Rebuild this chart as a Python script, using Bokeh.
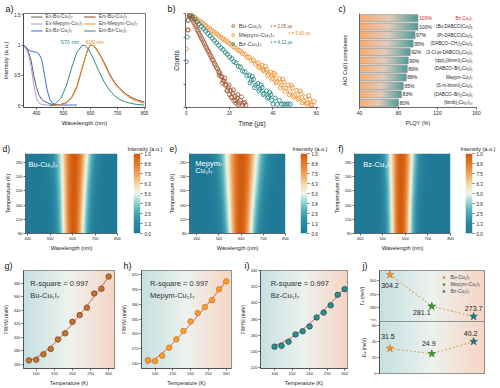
import numpy as np
from bokeh.plotting import figure
from bokeh.layouts import row, column
from bokeh.models import (Range1d, Legend, LegendItem, Label, LabelSet, ColumnDataSource,
                          LinearColorMapper, FixedTicker)
from bokeh.core.properties import value
from bokeh.embed import file_html
from bokeh.resources import INLINE

FONT = "Liberation Sans"

# ---------------- (a) normalized excitation / emission spectra ----------------
ex_wl = [350, 360, 370, 380, 390, 400, 410, 420, 430, 440, 450, 460, 470]
ex_bu = [1.00, 0.97, 0.90, 0.75, 0.50, 0.30, 0.17, 0.10, 0.07, 0.05, 0.03, 0.02, 0.02]
ex_mepym = [1.00, 0.95, 0.85, 0.65, 0.35, 0.12, 0.04, 0.02, 0.015, 0.01, 0.01, 0.01, 0.01]
exbz_wl = [350, 360, 370, 380, 390, 400, 410, 420, 430, 440, 450, 460, 470, 490, 520, 550]
ex_bz = [1.00, 0.97, 0.92, 0.90, 0.89, 0.88, 0.85, 0.75, 0.50, 0.25, 0.10, 0.04, 0.02, 0.01, 0.01, 0.01]
em_wl = [450, 470, 490, 510, 530, 550, 570, 580, 590, 600, 610, 620, 630, 650, 670, 690, 710, 730, 750, 770, 800]
em_bu = [0.00, 0.01, 0.02, 0.05, 0.13, 0.32, 0.63, 0.79, 0.92, 1.00, 0.99, 0.95, 0.88, 0.72, 0.53, 0.38, 0.28, 0.20, 0.14, 0.10, 0.06]
em_mepym = [0.00, 0.01, 0.02, 0.04, 0.12, 0.30, 0.62, 0.78, 0.92, 1.00, 0.99, 0.94, 0.87, 0.70, 0.51, 0.36, 0.26, 0.18, 0.12, 0.08, 0.04]
em_bz = [0.00, 0.03, 0.12, 0.32, 0.62, 0.88, 1.00, 0.99, 0.95, 0.87, 0.78, 0.68, 0.58, 0.40, 0.26, 0.16, 0.10, 0.06, 0.04, 0.02, 0.01]
a_labels = ["Ex-Bu-Cu₅I₇", "Ex-Mepym-Cu₅I₇", "Ex-Bz-Cu₅I₇", "Em-Bu-Cu₅I₇", "Em-Mepym-Cu₅I₇", "Em-Bz-Cu₅I₇"]

# ---------------- (b) PL decay (time in us, log10 counts) ----------------
bu_decay = [(1.0, 3.30), (1.5, 3.88), (2.0, 3.90), (2.5, 3.80), (3.0, 3.72), (3.5, 3.62), (4.0, 3.52),
            (4.5, 3.43), (5.0, 3.33), (5.5, 3.25), (6.0, 3.15), (6.5, 3.06), (7.0, 2.96), (7.5, 2.88),
            (8.0, 2.78), (8.5, 2.70), (9.0, 2.60), (9.5, 2.52), (10.0, 2.42), (10.5, 2.35), (11.0, 2.24),
            (11.5, 2.16), (12.0, 2.05), (12.5, 1.99), (13.0, 1.88), (13.5, 1.80), (14.0, 1.70), (14.5, 1.64),
            (15.0, 1.52), (15.5, 1.47), (16.0, 1.33), (16.5, 1.30), (17.0, 1.15), (17.5, 1.12), (18.0, 0.95),
            (18.5, 0.98), (19.0, 0.75), (19.5, 0.85), (20.0, 0.55), (20.5, 0.72), (21.0, 0.42), (21.5, 0.60),
            (22.0, 0.28), (22.5, 0.48), (23.0, 0.18), (23.5, 0.40), (24.0, 0.12), (25.0, 0.30), (26.0, 0.10),
            (27.0, 0.22), (15.2, 1.38), (16.8, 1.05), (17.8, 1.25), (18.8, 0.70), (19.8, 0.95), (20.8, 0.45),
            (21.8, 0.75), (22.8, 0.30), (23.8, 0.55), (24.5, 0.20), (25.5, 0.45), (26.5, 0.18), (27.5, 0.10)]
mepym_decay = [(0.0, 2.50), (0.5, 3.30), (1.0, 3.75), (1.5, 3.95), (2, 3.97), (3, 3.90), (4, 3.83), (5, 3.76),
               (6, 3.69), (7, 3.62), (8, 3.55), (9, 3.48), (10, 3.41), (11, 3.34), (12, 3.27), (13, 3.20),
               (14, 3.13), (15, 3.06), (16, 2.99), (17, 2.93), (18, 2.86), (19, 2.80), (20, 2.72), (21, 2.67),
               (22, 2.58), (23, 2.53), (24, 2.44), (25, 2.40), (26, 2.30), (27, 2.27), (28, 2.15), (29, 2.14),
               (30, 2.00), (31, 2.02), (32, 1.85), (33, 1.90), (34, 1.70), (35, 1.80), (36, 1.55), (37, 1.62),
               (38, 1.42), (39, 1.50), (40, 1.25), (41, 1.38), (42, 1.10), (43, 1.22), (44, 0.95), (45, 1.08),
               (46, 0.82), (47, 0.95), (48, 0.66), (49, 0.85), (50, 0.52), (51, 0.72), (52, 0.40), (53, 0.58),
               (54, 0.28), (55, 0.45), (56, 0.18), (57, 0.35), (58, 0.12), (59, 0.25), (33.5, 1.72), (35.5, 1.60),
               (37.5, 1.35), (39.5, 1.20), (41.5, 1.05), (43.5, 0.85), (45.5, 0.70), (47.5, 0.55), (49.5, 0.45),
               (51.5, 0.35), (53.5, 0.20), (55.5, 0.15), (57.5, 0.10), (36.5, 1.75), (40.5, 1.45), (44.5, 1.20),
               (48.5, 0.95), (52.5, 0.70), (56.5, 0.50)]
bz_decay = [(0.0, 1.95), (0.5, 3.00), (1.0, 3.70), (1.5, 3.92), (2, 3.95), (3, 3.85), (4, 3.75), (5, 3.65),
            (6, 3.55), (7, 3.45), (8, 3.35), (9, 3.25), (10, 3.15), (11, 3.05), (12, 2.95), (13, 2.85),
            (14, 2.75), (15, 2.65), (16, 2.55), (17, 2.46), (18, 2.35), (19, 2.27), (20, 2.15), (21, 2.08),
            (22, 1.95), (23, 1.90), (24, 1.75), (25, 1.72), (26, 1.55), (27, 1.52), (28, 1.35), (29, 1.38),
            (30, 1.15), (31, 1.20), (32, 0.95), (33, 1.02), (34, 0.78), (35, 0.85), (36, 0.60), (37, 0.70),
            (38, 0.45), (39, 0.55), (40, 0.15), (41, 0.40), (42, 0.14), (43, 0.30), (44, 0.14), (45, 0.15),
            (46, 0.14), (47, 0.15), (48, 0.14), (29.5, 1.05), (31.5, 0.85), (33.5, 0.70), (35.5, 0.55),
            (37.5, 0.40), (39.5, 0.30), (30.5, 1.32), (34.5, 0.95), (38.5, 0.65)]
b_names = ["Bu-Cu₅I₇", "Mepym-Cu₅I₇", "Bz-Cu₅I₇"]
b_tau = ["τ = 2.05 μs", "τ = 5.60 μs", "τ = 4.12 μs"]

# ---------------- (c) PLQY of AIO Cu(I) complexes ----------------
c_names = ["Bz-Cu₅I₇", "(Bu-DABCO)Cu₄I₆", "(Pr-DABCO)Cu₄I₆", "(DABCO–CH₂)₂Cu₄I₆", "(3-Cl-pr-DABCO)₂Cu₄I₆",
           "(tpp)₂(btmm)₂Cu₄I₆", "(DABCO–Br)₂Cu₄I₆", "Mepym-Cu₅I₇", "(S-m-btmm)₂Cu₄I₆",
           "(DABCO–Br)₃Cu₄I₆", "(btmb)₂Cu₁₀I₁₀"]
c_plqy = [100, 100, 97, 95, 92, 90, 89, 88, 85, 83, 80]

# ---------------- (d-f) temperature-dependent PL maps ----------------
hm_temps = [80, 120, 160, 200, 240, 280, 305]
d_center = [603, 603, 604, 605, 606, 607, 608]
d_fwhm = [88, 92, 96, 100, 106, 112, 116]
e_center = [598, 598, 599, 600, 601, 602, 603]
e_fwhm = [96, 103, 110, 118, 126, 134, 138]
f_center = [580, 580, 580, 581, 581, 582, 582]
f_fwhm = [80, 82, 85, 88, 92, 96, 98]
cbar_labels = ["0.0", "1.3", "2.5", "3.8", "5.0", "6.3", "7.5", "8.8", "1.0"]

# ---------------- (g-i) FWHM vs temperature ----------------
temps_bu = [80, 100, 120, 140, 160, 180, 200, 220, 240, 260, 280, 300]
fwhm_bu = [266, 267, 275, 283, 297, 306, 323, 333, 344, 365, 372, 390]
temps_mepym = [80, 100, 120, 140, 160, 180, 200, 220, 240, 260, 280, 300]
fwhm_mepym = [247, 245, 256, 272, 289, 306, 325, 342, 354, 368, 390, 406]
temps_bz = [100, 120, 140, 160, 180, 200, 220, 240, 260, 280, 300]
fwhm_bz = [246, 247, 252, 261, 265, 271, 282, 288, 297, 310, 317]

# ---------------- (j) fitted parameters ----------------
j_samples = ["Bu-Cu₅I₇", "Mepym-Cu₅I₇", "Bz-Cu₅I₇"]
gamma_lo = [304.2, 281.1, 273.7]
e_lo = [31.5, 24.9, 40.2]
gamma0 = [262, 233, 245]
KB = 0.08617  # meV/K

C_BU, C_ME, C_BZ = "#a0522d", "#f08a24", "#17807a"


def hex2rgb(h):
    return tuple(int(h[i:i + 2], 16) for i in (1, 3, 5))


def grad_img(stops, n=96):
    pos = [s for s, _ in stops]
    rgb = [hex2rgb(c) for _, c in stops]
    xs = np.linspace(0, 1, n)
    img = np.empty((1, n), dtype=np.uint32)
    v = img.view(dtype=np.uint8).reshape((1, n, 4))
    for k in range(3):
        v[0, :, k] = np.interp(xs, pos, [c[k] for c in rgb]).astype(np.uint8)
    v[0, :, 3] = 255
    return img


def make_palette(stops, n=256):
    pos = [s for s, _ in stops]
    rgb = [hex2rgb(c) for _, c in stops]
    xs = np.linspace(0, 1, n)
    ch = [np.interp(xs, pos, [c[k] for c in rgb]) for k in range(3)]
    return ["#%02x%02x%02x" % (int(r), int(g), int(b)) for r, g, b in zip(*ch)]


FRAMES = {}


def fig(w, h, l, r, t, b, xr, yr, tick="4.5px", lab="5.5px", outline=True, logy=False, **kw):
    p = figure(width=w, height=h, x_range=xr, y_range=yr, toolbar_location=None, output_backend="svg",
               min_border_left=l, min_border_right=r, min_border_top=t, min_border_bottom=b,
               y_axis_type="log" if logy else "linear", **kw)
    FRAMES[id(p)] = (w - l - r, h - t - b, logy)
    p.xgrid.visible = False
    p.ygrid.visible = False
    p.outline_line_color = "#555555" if outline else None
    p.outline_line_width = 0.8
    for ax in p.axis:
        ax.major_label_text_font = FONT
        ax.major_label_text_font_size = tick
        ax.major_label_text_color = "#222222"
        ax.axis_label_text_font = FONT
        ax.axis_label_text_font_size = lab
        ax.axis_label_text_font_style = "normal"
        ax.axis_label_text_color = "#222222"
        ax.axis_line_color = "#444444"
        ax.axis_line_width = 0.8
        ax.major_tick_line_color = "#444444"
        ax.major_tick_line_width = 0.8
        ax.major_tick_out = 2
        ax.major_tick_in = 0
        ax.minor_tick_line_color = None
        ax.major_label_standoff = 1
        ax.axis_label_standoff = 2
    return p


def note(p, txt, px, py, size="5px", color="#222222", align="left", baseline="top"):
    """Text inside the frame, at a pixel offset from the frame's bottom-left corner (data units)."""
    fw, fh, logy = FRAMES[id(p)]
    xr, yr = p.x_range, p.y_range
    x = xr.start + px / fw * (xr.end - xr.start)
    if logy:
        ly0, ly1 = np.log10(yr.start), np.log10(yr.end)
        y = 10 ** (ly0 + py / fh * (ly1 - ly0))
    else:
        y = yr.start + py / fh * (yr.end - yr.start)
    p.add_layout(Label(x=float(x), y=float(y), text=txt, text_font=FONT, text_font_size=size,
                       text_baseline=baseline, text_color=color, text_align=align))


def set_title(p, txt, offset, size="9px", standoff=0, color="#111111"):
    """Figure title, left aligned and shifted relative to the frame's left edge."""
    p.title.text = txt
    p.title.align = "left"
    p.title.offset = offset
    p.title.standoff = standoff
    p.title.text_font = FONT
    p.title.text_font_size = size
    p.title.text_font_style = "normal"
    p.title.text_color = color


# ================= (a) =================
pa = fig(165, 134, 20, 20, 13, 27, Range1d(352, 804), Range1d(-0.03, 1.52), tick="4.5px", lab="6px")
pa.xaxis.ticker = FixedTicker(ticks=[400, 500, 600, 700, 800])
pa.yaxis.ticker = FixedTicker(ticks=[0, 0.5, 1.0, 1.5])
pa.xaxis.axis_label = "Wavelength (nm)"
pa.yaxis.axis_label = "Intensity (a.u.)"
ra = [pa.line(ex_wl, ex_bu, line_color="#606060", line_width=1),
      pa.line(ex_wl, ex_mepym, line_color="#b48fd8", line_width=1),
      pa.line(exbz_wl, ex_bz, line_color="#3a6fd8", line_width=1),
      pa.line(em_wl, em_bu, line_color="#8b4a2a", line_width=1),
      pa.line(em_wl, em_mepym, line_color="#f0902a", line_width=1),
      pa.line(em_wl, em_bz, line_color="#2a8c84", line_width=1)]
leg_a = Legend(items=[LegendItem(label=l, renderers=[r]) for l, r in zip(a_labels, ra)],
               location="top_center", ncols=2, background_fill_alpha=0, border_line_color=None,
               label_text_font=FONT, label_text_font_size="5px", label_height=5, glyph_height=5,
               glyph_width=12, spacing=1, padding=1, margin=0, label_standoff=3)
pa.add_layout(leg_a)
pa.add_layout(Label(x=558, y=1.05, text="570 nm", text_font=FONT, text_font_size="5.5px",
                    text_color="#2a8c84", text_align="right", text_baseline="middle"))
pa.add_layout(Label(x=582, y=1.05, text="600 nm", text_font=FONT, text_font_size="5.5px",
                    text_color="#f0902a", text_align="left", text_baseline="middle"))
set_title(pa, "a)", -18)

# ================= (b) =================
pb = fig(165, 134, 20, 12, 10, 21, Range1d(-0.3, 61), Range1d(1, 10000), logy=True,
         outline=False, tick="4.5px", lab="6.5px")
pb.xaxis.ticker = FixedTicker(ticks=[0, 20, 40, 60])
pb.yaxis.major_label_text_color = None
pb.yaxis.major_label_text_font_size = "3px"
pb.xaxis.axis_label = "Time (μs)"
pb.yaxis.axis_label = "Counts"
rb = {}
for key, data, col in [("me", mepym_decay, C_ME), ("bz", bz_decay, C_BZ), ("bu", bu_decay, C_BU)]:
    t, lg = zip(*data)
    rb[key] = pb.scatter(list(t), [10 ** v for v in lg], marker="circle", size=4.2, fill_color=None,
                         line_color=col, line_width=0.8)
leg_b = Legend(items=[LegendItem(label=b_names[0], renderers=[rb["bu"]]),
                      LegendItem(label=b_names[1], renderers=[rb["me"]]),
                      LegendItem(label=b_names[2], renderers=[rb["bz"]])],
               location="top_center", background_fill_alpha=0, border_line_color=None,
               label_text_font=FONT, label_text_font_size="6px", label_height=7, glyph_height=7,
               glyph_width=7, spacing=2, padding=1, margin=9, label_standoff=3)
pb.add_layout(leg_b)
for txt, col, x, y in zip(b_tau, [C_BU, C_ME, C_BZ], [85, 103, 85], [89, 80.7, 71.7]):
    note(pb, txt, x, y, size="4.5px", color=col, baseline="middle")
set_title(pb, "b)", -18)

# ================= (c) =================
n_c = len(c_names)
c_pos = list(range(n_c))[::-1]
pc = fig(170, 134, 29, 24, 2, 22, Range1d(40, 160), Range1d(-0.55, n_c - 0.45), outline=False,
         tick="5px", lab="5.5px")
pc.xaxis.ticker = FixedTicker(ticks=[40, 80, 120, 160])
pc.yaxis.major_label_text_color = None
pc.yaxis.major_label_text_font_size = "3px"
pc.yaxis.major_tick_line_color = None
pc.yaxis.axis_label = "AIO Cu(I) complexes"
pc.yaxis.axis_label_standoff = 8
pc.xaxis.axis_label = "PLQY (%)"
bar_g = grad_img([(0, "#f8ac70"), (0.5, "#e2ccbc"), (1, "#4c9e9c")])
pc.image_rgba(image=[bar_g] * n_c, x=[40] * n_c, y=[p - 0.42 for p in c_pos],
              dw=[v - 40 for v in c_plqy], dh=[0.84] * n_c)
pc.hbar(y=c_pos, left=40, right=c_plqy, height=0.84, fill_color=None, line_color="#8a8a8a", line_width=0.6)
c_cols = ["#d42020"] + ["#222222"] * (n_c - 1)
src_c = ColumnDataSource(dict(y=c_pos, x=c_plqy, pct=["%d%%" % v for v in c_plqy], name=c_names, col=c_cols))
pc.add_layout(LabelSet(x="x", y="y", text="pct", source=src_c, x_offset=1, text_baseline="middle",
                       text_font=value(FONT), text_font_size="5px", text_color="col"))
pc.add_layout(LabelSet(x=156, y="y", text="name", source=src_c, text_align="right", text_baseline="middle",
                       text_font=value(FONT), text_font_size="4.5px", text_color="col"))
set_title(pc, "c)", -21, size="8.5px")

# ================= (d-f) =================
hm_stops = [(0.0, "#1f7a98"), (0.14, "#2c8ca2"), (0.28, "#55aeb9"), (0.4, "#9ed7d0"), (0.5, "#eef6ec"),
            (0.6, "#f4e0b8"), (0.72, "#efae6c"), (0.86, "#e47e32"), (1.0, "#d25c0e")]
mapper = LinearColorMapper(palette=make_palette(hm_stops), low=0, high=8)


def heat(w, h, l, r, t, b, x0, centers, fwhms, lines, tagtxt, tagoff, lx):
    p = fig(w, h, l, r, t, b, Range1d(x0, 800), Range1d(80, 305), outline=False, tick="4px", lab="5.5px")
    p.xaxis.ticker = FixedTicker(ticks=[400, 500, 600, 700, 800])
    p.yaxis.ticker = FixedTicker(ticks=[80, 120, 160, 200, 240, 280])
    p.xaxis.axis_label = "Wavelength (nm)"
    p.yaxis.axis_label = "Temperature (K)"
    wl = np.arange(x0, 801, 1.0)
    tg = np.arange(80, 306, 2.5)
    c = np.interp(tg, hm_temps, centers)
    f = np.interp(tg, hm_temps, fwhms)
    img = 8 * np.exp(-4 * np.log(2) * ((wl[None, :] - c[:, None]) / f[:, None]) ** 2)
    p.image(image=[img], x=x0, y=80, dw=800 - x0, dh=225, color_mapper=mapper)
    fh = h - t - b
    for k, ln in enumerate(lines):
        note(p, ln, lx, fh - 7 - 8 * k, size="7.5px", color="#ffffff")
    set_title(p, tagtxt, tagoff, size="8.5px")
    return p


def cbar(w, l, r, t, b, title_off):
    p = figure(width=w, height=124, x_range=Range1d(0, 1), y_range=Range1d(0, 8), toolbar_location=None,
               output_backend="svg", min_border_left=l, min_border_right=r, min_border_top=t,
               min_border_bottom=b, x_axis_location=None, y_axis_location="right")
    p.xgrid.visible = False
    p.ygrid.visible = False
    p.outline_line_color = None
    levels = np.linspace(0, 8, 200).reshape(200, 1)
    p.image(image=[levels], x=0, y=0, dw=1, dh=8, color_mapper=mapper)
    ax = p.yaxis[0]
    ax.ticker = FixedTicker(ticks=list(range(len(cbar_labels))))
    ax.major_label_overrides = {i: s for i, s in enumerate(cbar_labels)}
    ax.major_label_text_font = FONT
    ax.major_label_text_font_size = "4.5px"
    ax.major_label_text_color = "#222222"
    ax.axis_line_color = None
    ax.major_tick_line_color = "#333333"
    ax.major_tick_line_width = 0.7
    ax.major_tick_out = 2
    ax.major_tick_in = 0
    ax.minor_tick_line_color = None
    ax.major_label_standoff = 2
    set_title(p, "Intensity (a.u.)", title_off, size="5.5px", standoff=3, color="#222222")
    return p


pd_ = heat(125, 124, 25, 8, 8, 23, 390, d_center, d_fwhm, ["Bu-Cu₅I₇"], "d)", -23, 3)
cbd = cbar(40, 8, 25, 16, 25, -6)
pe = heat(125, 124, 21, 5, 9, 20, 367, e_center, e_fwhm, ["Mepym-", "Cu₅I₇"], "e)", -20, 6)
cbe = cbar(40, 10, 23, 19, 23, -8)
pf = heat(128, 124, 22, 8, 9, 25, 375, f_center, f_fwhm, ["Bz-Cu₅I₇"], "f)", -16, 9)
cbf = cbar(42, 7, 28, 16, 23, -5)

# ================= (g-i) =================
bg_img = grad_img([(0, "#c6e1e1"), (0.5, "#eef2ee"), (1, "#f5d6c6")])


def fwhm_panel(w, l, r, xr, yr, yt, T, F, k, fill, edge, name, tagtxt, tagx, tx):
    p = fig(w, 130, l, r, 12, 20, Range1d(*xr), Range1d(*yr), tick="4px", lab="4.8px")
    p.image_rgba(image=[bg_img], x=xr[0], y=yr[0], dw=xr[1] - xr[0], dh=yr[1] - yr[0])
    p.xaxis.ticker = FixedTicker(ticks=[100, 150, 200, 250, 300])
    p.yaxis.ticker = FixedTicker(ticks=yt)
    p.xaxis.axis_label = "Temperature (K)"
    p.xaxis.axis_label_text_font_size = "5.3px"
    p.yaxis.axis_label = "FWHM (meV)"
    tf = np.arange(T[0] - 4, T[-1] + 3, 1.0)
    fit = gamma0[k] + gamma_lo[k] / (np.exp(e_lo[k] / (KB * tf)) - 1)
    p.line(tf, fit, line_color="#e0393b", line_width=1)
    p.scatter(T, F, marker="circle", size=5.5, fill_color=fill, line_color=edge, line_width=0.7)
    note(p, "R-square = 0.997", tx, 90, size="7.5px", color="#333333")
    note(p, name, tx, 78, size="7.5px", color="#333333")
    set_title(p, tagtxt, tagx)
    return p


pg = fwhm_panel(118, 21, 4, (65, 316), (254, 399), [260, 280, 300, 320, 340, 360, 380],
                temps_bu, fwhm_bu, 0, "#c8742e", "#6b3a16", "Bu-Cu₅I₇", "g)", -19, 7)
ph = fwhm_panel(119, 19, 6, (62, 315), (230, 428), [240, 270, 300, 330, 360, 390, 420],
                temps_mepym, fwhm_mepym, 1, "#f5a030", "#d06a10", "Mepym-Cu₅I₇", "h)", -18, 9)
pi = fwhm_panel(119, 17, 9, (60, 308), (219, 340), [220, 240, 260, 280, 300, 320, 340],
                temps_bz, fwhm_bz, 2, "#2a9090", "#114848", "Bz-Cu₅I₇", "i)", -16, 11)

# ================= (j) =================
xj = Range1d(0.75, 3.26)
jx = list(range(1, len(j_samples) + 1))
j_fill = ["#f5922e", "#3f9a2a", "#1d7d7d"]
j_edge = ["#d0701a", "#276a1a", "#125555"]
pjt = fig(144, 63, 18, 16, 12, 0, xj, Range1d(270, 307.2), x_axis_location=None, tick="4px", lab="4.5px")
pjb = fig(144, 67, 18, 16, 0, 15, xj, Range1d(0, 65.5), x_axis_location=None, tick="4px", lab="4.5px")
pjt.yaxis.ticker = FixedTicker(ticks=[270, 280, 290, 300])
pjb.yaxis.ticker = FixedTicker(ticks=[0, 20, 40, 60])
pjt.yaxis.axis_label = "Γₗₒ (meV)"
pjb.yaxis.axis_label = "Eₗₒ (meV)"
items_j = []
for p, vals, offs in [(pjt, gamma_lo, ([0, -10, 0], [-11, -6, 8])), (pjb, e_lo, ([-2, -3, -3], [12, 10, 8]))]:
    yr = p.y_range
    p.image_rgba(image=[bg_img], x=0.75, y=yr.start, dw=2.51, dh=yr.end - yr.start)
    p.line(jx, vals, line_color="#d9a860", line_width=1.1, line_dash="2 2")
    for i in range(len(jx)):
        r = p.scatter([jx[i]], [vals[i]], marker="star", size=8, fill_color=j_fill[i], line_color=j_edge[i],
                      line_width=0.6)
        if p is pjt:
            items_j.append(LegendItem(label=j_samples[i], renderers=[r]))
    src = ColumnDataSource(dict(x=jx, y=vals, t=["%.1f" % v for v in vals], dx=offs[0], dy=offs[1]))
    p.add_layout(LabelSet(x="x", y="y", text="t", source=src, x_offset="dx", y_offset="dy",
                          text_align="center", text_baseline="middle", text_font=value(FONT),
                          text_font_size="7px", text_color="#222222"))
leg_j = Legend(items=items_j, location="top_right", background_fill_alpha=0, border_line_color=None,
               label_text_font=FONT, label_text_font_size="5px", label_height=6, glyph_height=6,
               glyph_width=6, spacing=1, padding=1, margin=4, label_standoff=4)
pjt.add_layout(leg_j)
set_title(pjt, "j)", -17)

root = column(row(pa, pb, pc), row(pd_, cbd, pe, cbe, pf, cbf), row(pg, ph, pi, column(pjt, pjb)))
open("out.html", "w").write(file_html(root, INLINE))
